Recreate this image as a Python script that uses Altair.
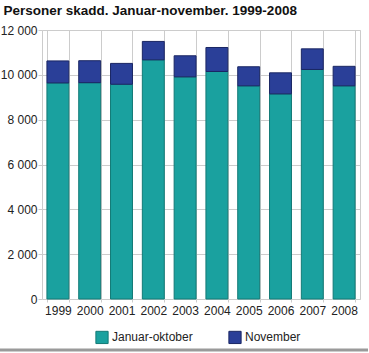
import altair as alt
import pandas as pd

years = ["1999", "2000", "2001", "2002", "2003", "2004", "2005", "2006", "2007", "2008"]
jan_okt = [9640, 9650, 9580, 10670, 9910, 10150, 9510, 9150, 10240, 9510]
november = [980, 980, 930, 820, 940, 1070, 850, 940, 920, 870]
series = ["Januar-oktober", "November"]
colors = ["#1aa19f", "#2a3f98"]
strokes = ["#137a76", "#1a2663"]

rows = []
for y, a, b in zip(years, jan_okt, november):
    rows.append({"year": y, "series": series[0], "value": a, "ord": 0})
    rows.append({"year": y, "series": series[1], "value": b, "ord": 1})
df = pd.DataFrame(rows)

FONT = "Liberation Sans"

bars = alt.Chart(df).mark_bar(strokeWidth=1).encode(
    x=alt.X("year:N", title=None,
            scale=alt.Scale(paddingInner=0.31, paddingOuter=0.155),
            axis=alt.Axis(labelAngle=0, grid=True, bandPosition=0, gridColor="#cccccc",
                          domain=False, tickColor="#cccccc", tickSize=3, tickBand="extent",
                          labelFontSize=12, labelColor="#222222", labelPadding=3)),
    y=alt.Y("value:Q", title=None, stack="zero",
            scale=alt.Scale(domain=[0, 12000]),
            axis=alt.Axis(values=[0, 2000, 4000, 6000, 8000, 10000, 12000],
                          labelExpr="replace(format(datum.value, ','), ',', ' ')",
                          gridColor="#cccccc", domain=False, tickColor="#cccccc", tickSize=4,
                          labelFontSize=12, labelColor="#222222", labelPadding=1)),
    color=alt.Color("series:N", scale=alt.Scale(domain=series, range=colors),
                    legend=alt.Legend(title=None, orient="none", direction="horizontal",
                                      legendX=53, legendY=300, symbolType="square",
                                      symbolSize=150, symbolStrokeWidth=1,
                                      symbolStrokeColor="#555555",
                                      labelFontSize=12, labelColor="#222222",
                                      columnPadding=33, labelOffset=3)),
    stroke=alt.Stroke("series:N", scale=alt.Scale(domain=series, range=strokes), legend=None),
    order=alt.Order("ord:Q"),
)

bottom_line = alt.Chart(pd.DataFrame({"a": [0]})).mark_rule(
    color="#9a9a9a", strokeWidth=3, clip=False
).encode(x=alt.value(-43), x2=alt.value(326), y=alt.value(320))

chart = alt.layer(bars, bottom_line).properties(
    width=318, height=269,
    autosize=alt.AutoSizeParams(type="none"),
    padding={"left": 42, "top": 30, "right": 9, "bottom": 54},
    title=alt.TitleParams("Personer skadd. Januar-november. 1999-2008", anchor="start",
                          frame="bounds", dx=6, offset=7, fontSize=13.5, fontWeight="bold",
                          font=FONT, color="#111111"),
).configure(font=FONT).configure_view(stroke="#cccccc")

chart.save("out.html", embed_options={"renderer": "svg", "actions": False})
